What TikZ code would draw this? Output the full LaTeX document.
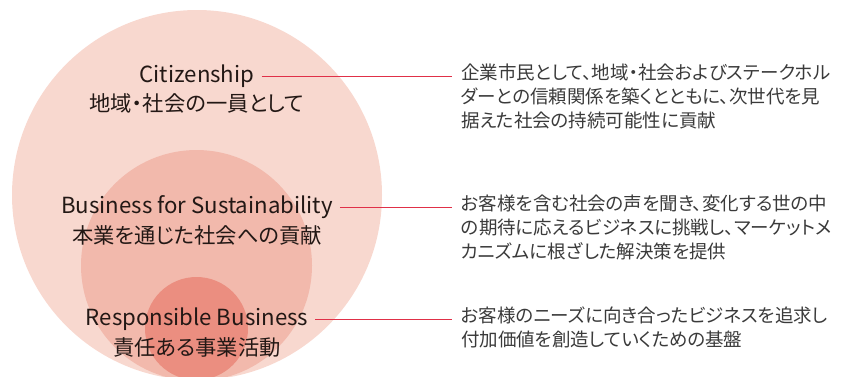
\documentclass[tikz,border=0pt]{standalone}
\usepackage{fontspec}
\setmainfont[RawFeature=+palt]{Noto Sans CJK JP}
\definecolor{outerc}{HTML}{F8D8CF}
\definecolor{midc}{HTML}{F2B9AC}
\definecolor{innerc}{HTML}{EB8E80}
\definecolor{linec}{HTML}{E03048}
\definecolor{txtc}{HTML}{231815}
\definecolor{desc}{HTML}{3A3A3A}
\begin{document}
\begin{tikzpicture}[x=1pt,y=-1pt,
  lab/.style={inner xsep=7pt,inner ysep=0pt,text=txtc,font=\fontsize{22.2}{24}\selectfont},
  labjp/.style={inner sep=0pt,text=txtc,font=\fontsize{21.3}{24}\selectfont},
  descbox/.style={anchor=north west,inner xsep=9pt,inner ysep=0pt,align=left,text=desc,font=\fontsize{18.5}{24}\selectfont},
  conn/.style={draw=linec,line width=0.9pt}]
\useasboundingbox (0,0) rectangle (841,376);
\begin{scope}
\clip (0,0) rectangle (841,376);
\fill[outerc] (197,195) circle (185);
\fill[midc] (196.5,265.5) circle (115.5);
\fill[innerc] (196.5,328.5) circle (51.5);
\end{scope}
\node[lab] (cit) at (197,76) {Citizenship};
\node[labjp] (citjp) at (197,103) {地域・社会の一員として};
\node[lab] (bfs) at (197,207) {Business for Sustainability};
\node[labjp] (bfsjp) at (197,235) {本業を通じた社会への貢献};
\node[lab] (rb) at (197,319) {Responsible Business};
\node[labjp] (rbjp) at (197,347) {責任ある事業活動};
\node[descbox] (d1) at (452,64) {企業市民として、地域・社会およびステークホル\\ダーとの信頼関係を築くとともに、次世代を見\\据えた社会の持続可能性に貢献};
\node[descbox] (d2) at (452,195) {お客様を含む社会の声を聞き、変化する世の中\\の期待に応えるビジネスに挑戦し、マーケットメ\\カニズムに根ざした解決策を提供};
\node[descbox] (d3) at (452,307) {お客様のニーズに向き合ったビジネスを追求し\\付加価値を創造していくための基盤};
\draw[conn] (cit.east) -- (cit.east -| d1.west);
\draw[conn] (bfs.east) -- (bfs.east -| d2.west);
\draw[conn] (rb.east) -- (rb.east -| d3.west);
\end{tikzpicture}
\end{document}
